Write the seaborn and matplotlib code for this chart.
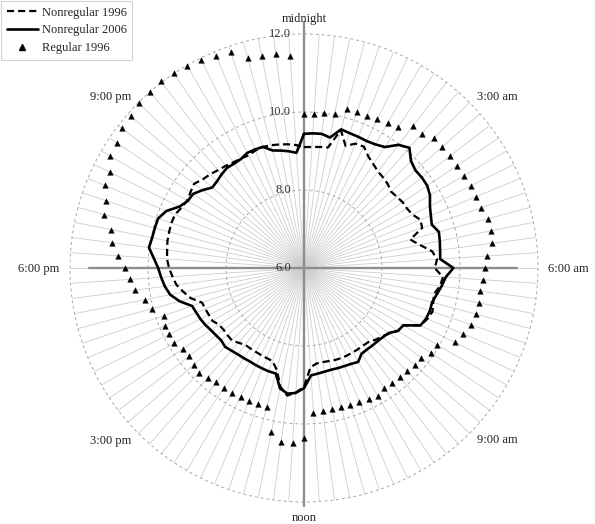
import numpy as np
import pandas as pd
import matplotlib
matplotlib.use("Agg")
import matplotlib.pyplot as plt
from matplotlib.lines import Line2D
import seaborn as sns

# ---------------- data ----------------
n_slots = 96  # 15-minute slots starting at midnight
slot_minutes = [i * 15 for i in range(n_slots)]

nonregular_1996 = [
    9.10, 9.11, 9.13, 9.15, 9.66, 9.31, 9.45, 9.47, 9.30, 9.20,
    9.12, 9.08, 9.04, 8.97, 9.00, 9.04, 9.05, 9.10, 9.23, 9.20,
    8.82, 9.03, 9.31, 9.42, 9.35, 9.57, 9.52, 9.40, 9.43, 9.48,
    9.42, 9.33, 8.94, 8.90, 8.76, 8.66, 8.60, 8.52, 8.50, 8.50,
    8.50, 8.50, 8.50, 8.49, 8.47, 8.46, 8.47, 8.55, 9.05, 9.20,
    9.30, 9.10, 8.70, 8.52, 8.50, 8.49, 8.48, 8.48, 8.48, 8.55,
    8.62, 8.61, 8.60, 8.62, 8.71, 8.72, 8.74, 8.76, 9.00, 9.15,
    9.30, 9.38, 9.46, 9.52, 9.54, 9.57, 9.58, 9.59, 9.58, 9.50,
    9.46, 9.50, 9.55, 9.45, 9.40, 9.34, 9.30, 9.26, 9.24, 9.22,
    9.26, 9.28, 9.26, 9.23, 9.20, 9.16,
]

nonregular_2006 = [
    9.44, 9.46, 9.47, 9.41, 9.68, 9.65, 9.64, 9.63, 9.66, 9.73,
    9.98, 10.10, 9.88, 9.80, 9.81, 9.80, 9.73, 9.60, 9.52, 9.46,
    9.58, 9.55, 9.52, 9.50, 9.83, 9.64, 9.56, 9.47, 9.40, 9.41,
    9.39, 9.33, 8.94, 8.90, 8.74, 8.69, 8.66, 8.65, 8.64, 8.65,
    8.78, 8.74, 8.72, 8.71, 8.70, 8.71, 8.73, 8.76, 9.08, 9.21,
    9.25, 9.15, 8.80, 8.80, 8.79, 8.78, 8.77, 8.78, 8.79, 8.82,
    8.86, 8.82, 8.84, 8.87, 8.92, 8.96, 8.99, 9.03, 9.30, 9.50,
    9.60, 9.67, 9.74, 9.86, 10.01, 9.97, 9.96, 9.95, 9.82, 9.56,
    9.44, 9.42, 9.28, 9.13, 9.15, 9.20, 9.24, 9.22, 9.23, 9.29,
    9.29, 9.28, 9.12, 9.07, 9.02, 8.96,
]

regular_1996 = [
    9.95, 9.95, 10.02, 10.03, 10.22, 10.22, 10.23, 10.26, 10.30, 10.35,
    10.60, 10.57, 10.72, 10.70, 10.73, 10.71, 10.74, 10.78, 10.78, 10.78,
    10.88, 10.90, 10.87, 10.71, 10.64, 10.60, 10.56, 10.57, 10.56, 10.52,
    10.42, 10.31, 9.94, 9.91, 9.79, 9.77, 9.74, 9.72, 9.72, 9.71,
    9.79, 9.74, 9.71, 9.70, 9.69, 9.69, 9.70, 9.72, 10.37, 10.50,
    10.49, 10.28, 9.69, 9.68, 9.68, 9.68, 9.69, 9.70, 9.70, 9.74,
    9.81, 9.76, 9.71, 9.72, 9.85, 9.85, 9.86, 9.79, 10.04, 10.15,
    10.37, 10.46, 10.60, 10.77, 10.97, 11.04, 11.30, 11.36, 11.53, 11.56,
    11.74, 11.78, 11.89, 11.90, 11.98, 12.00, 12.03, 12.02, 11.99, 11.95,
    11.88, 11.84, 11.58, 11.55, 11.53, 11.45,
]

series_labels = ["Nonregular 1996", "Nonregular 2006", "Regular 1996"]
hour_labels = ["midnight", "3:00 am", "6:00 am", "9:00 am",
               "noon", "3:00 pm", "6:00 pm", "9:00 pm"]
radial_ticks = [6.0, 8.0, 10.0, 12.0]

# ---------------- style ----------------
sns.set_theme(style="white")
plt.rcParams["font.family"] = ["Liberation Serif", "DejaVu Serif"]

W, H = 595, 524
fig = plt.figure(figsize=(W / 100, H / 100), dpi=100)
cx, cy, R = 304, 268, 234
ax = fig.add_axes([(cx - R) / W, (H - cy - R) / H, 2 * R / W, 2 * R / H],
                  projection="polar")
ax.set_theta_zero_location("N")
ax.set_theta_direction(-1)
ax.set_ylim(6, 12)
ax.spines["polar"].set_visible(False)
ax.set_facecolor("white")

theta = np.deg2rad(np.array(slot_minutes) / 1440 * 360)

# spokes (category axis)
ax.set_xticks(theta)
ax.set_xticklabels([])
ax.xaxis.grid(True, color="#cdcdcd", lw=0.6, ls="-")
ax.set_yticks([])
ax.yaxis.grid(False)

# dashed circular gridlines
circ = np.linspace(0, 2 * np.pi, 400)
for rv in radial_ticks[1:]:
    ax.plot(circ, np.full_like(circ, rv), color="#a8a8a8", lw=0.7,
            ls=(0, (3, 3)), zorder=1, clip_on=False)

# main axis lines
axis_col = "#8e8e8e"
ax.plot([0, 0], [6, 12.32], color=axis_col, lw=1.7, zorder=2, clip_on=False)
ax.plot([np.pi, np.pi], [6, 12.09], color=axis_col, lw=1.7, zorder=2, clip_on=False)
ax.plot([np.pi / 2, np.pi / 2], [6, 11.47], color=axis_col, lw=1.7, zorder=2, clip_on=False)
ax.plot([3 * np.pi / 2, 3 * np.pi / 2], [6, 11.52], color=axis_col, lw=1.7, zorder=2, clip_on=False)

# radial tick labels
for rv in radial_ticks:
    ax.annotate(f"{rv:.1f}", xy=(0, rv), xytext=(-13, 0), textcoords="offset pixels",
                ha="right", va="center", fontsize=9, color="#333333", zorder=5,
                annotation_clip=False)

# series
theta_c = np.append(theta, theta[0] + 2 * np.pi)
df = pd.DataFrame({
    "theta": np.tile(theta_c, 2),
    "value": np.concatenate([np.append(nonregular_1996, nonregular_1996[0]),
                             np.append(nonregular_2006, nonregular_2006[0])]),
    "series": [series_labels[0]] * len(theta_c) + [series_labels[1]] * len(theta_c),
})

sns.lineplot(data=df[df.series == series_labels[0]], x="theta", y="value",
             sort=False, estimator=None, color="black", lw=1.6, ax=ax,
             legend=False, zorder=4)
dash_line = ax.lines[-1]
dash_line.set_dashes([3.2, 1.8])
sns.lineplot(data=df[df.series == series_labels[1]], x="theta", y="value",
             sort=False, estimator=None, color="black", lw=1.9, ax=ax,
             legend=False, zorder=4)
sc = sns.scatterplot(x=theta, y=regular_1996, marker="^", color="black", s=16,
                     edgecolor="black", linewidth=0.3, ax=ax, legend=False, zorder=5)
for coll in ax.collections:
    coll.set_clip_on(False)

ax.set_xlabel("")
ax.set_ylabel("")
ax.set_ylim(6, 12)

# hour labels
label_pos = [(304, 19, "center"), (477, 97, "left"), (548, 269, "left"),
             (477, 440, "left"), (304, 518, "center"), (131, 441, "right"),
             (59, 269, "right"), (131, 97, "right")]
for txt, (px, py, ha) in zip(hour_labels, label_pos):
    fig.text(px / W, 1 - py / H, txt, ha=ha, va="center", fontsize=9, color="#222222")

# legend
handles = [
    Line2D([], [], color="black", lw=1.6, dashes=[3.2, 1.8]),
    Line2D([], [], color="black", lw=1.9),
    Line2D([], [], color="black", marker="^", ls="none", markersize=4),
]
leg = fig.legend(handles, series_labels, loc="upper left",
                 bbox_to_anchor=(1 / W, 1 - 1 / H), frameon=True, fancybox=False,
                 edgecolor="#c8c8c8", fontsize=9, handlelength=2.5,
                 labelspacing=0.45, borderpad=0.45, handletextpad=0.3,
                 borderaxespad=0.0)
leg.get_frame().set_linewidth(0.8)

fig.savefig("out.png", dpi=100, facecolor="white")
